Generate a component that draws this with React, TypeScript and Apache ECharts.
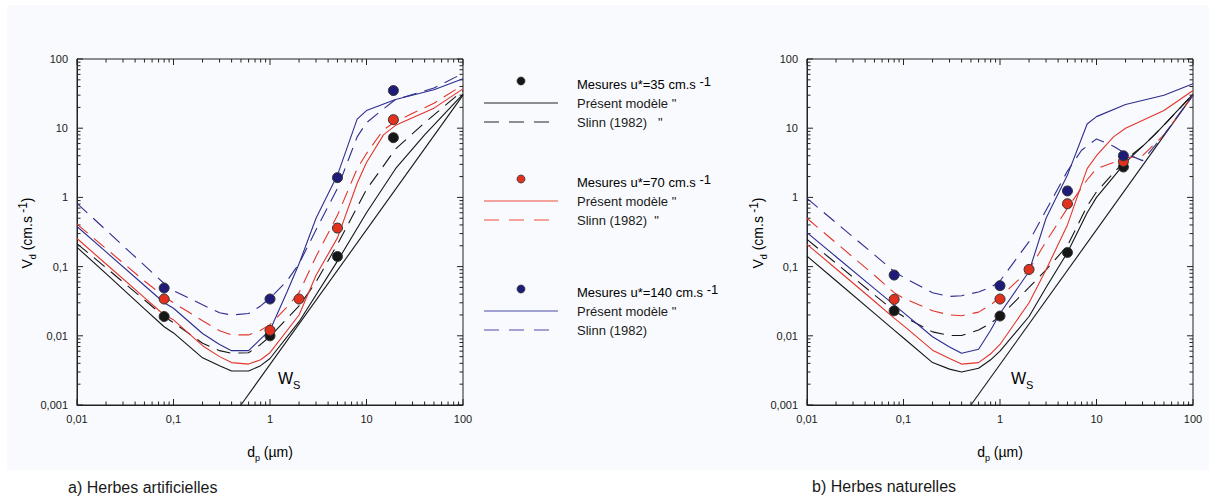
import React, { useEffect, useRef } from 'react';
import * as echarts from 'echarts';

const FONT = '"Liberation Sans", Arial, Helvetica, sans-serif';

// ---------- data ----------
// x: particle diameter dp (µm), y: deposition velocity Vd (cm/s)

// a) Herbes artificielles
const aMes35 = [[0.08, 0.019], [1, 0.01], [5, 0.14], [19, 7.3]];
const aMes70 = [[0.08, 0.034], [1, 0.012], [2, 0.034], [5, 0.36], [19, 13.3]];
const aMes140 = [[0.08, 0.049], [1, 0.034], [5, 1.93], [19, 35]];
const aModel35 = [[0.01, 0.19], [0.02, 0.079], [0.05, 0.0245], [0.08, 0.0135], [0.1, 0.011], [0.2, 0.0048], [0.3, 0.0037], [0.4, 0.0031], [0.6, 0.0031], [0.8, 0.0037], [1, 0.0047], [2, 0.016], [5, 0.12], [10, 0.6], [20, 2.6], [40, 8], [100, 31]];
const aSlinn35 = [[0.01, 0.215], [0.02, 0.096], [0.05, 0.033], [0.08, 0.019], [0.1, 0.0155], [0.2, 0.0078], [0.3, 0.0061], [0.4, 0.0056], [0.6, 0.0057], [0.8, 0.0075], [1, 0.0098], [2, 0.027], [3, 0.06], [5, 0.21], [10, 1.3], [20, 5], [40, 12], [100, 35]];
const aModel70 = [[0.01, 0.255], [0.02, 0.109], [0.05, 0.0356], [0.08, 0.02], [0.1, 0.017], [0.2, 0.0072], [0.3, 0.005], [0.4, 0.0041], [0.6, 0.0039], [0.8, 0.0045], [1, 0.0057], [2, 0.02], [3, 0.075], [5, 0.26], [8, 1.6], [10, 3.2], [15, 8], [20, 11], [50, 19.5], [100, 37]];
const aSlinn70 = [[0.01, 0.41], [0.02, 0.182], [0.05, 0.062], [0.08, 0.037], [0.1, 0.03], [0.2, 0.0165], [0.3, 0.0118], [0.4, 0.0103], [0.6, 0.0103], [0.8, 0.012], [1, 0.0145], [1.5, 0.026], [2, 0.042], [3, 0.14], [5, 0.55], [8, 2.6], [10, 4.3], [15, 9.5], [20, 12.5], [50, 23], [100, 42]];
const aModel140 = [[0.01, 0.38], [0.02, 0.163], [0.05, 0.0533], [0.08, 0.03], [0.1, 0.025], [0.2, 0.0108], [0.3, 0.0075], [0.4, 0.0061], [0.6, 0.0061], [0.8, 0.009], [1, 0.012], [1.5, 0.043], [2, 0.11], [3, 0.5], [5, 2.1], [8, 13.5], [10, 18], [20, 26], [50, 36], [100, 52]];
const aSlinn140 = [[0.01, 0.82], [0.02, 0.337], [0.05, 0.104], [0.08, 0.057], [0.1, 0.045], [0.2, 0.028], [0.3, 0.0215], [0.4, 0.02], [0.6, 0.021], [0.8, 0.027], [1, 0.035], [1.5, 0.062], [2, 0.11], [3, 0.34], [5, 1.35], [8, 7.5], [10, 12], [15, 19], [20, 26], [50, 38], [100, 62]];

// b) Herbes naturelles
const bMes35 = [[0.08, 0.023], [1, 0.0193], [5, 0.16], [19, 2.75]];
const bMes70 = [[0.08, 0.0336], [1, 0.034], [2, 0.091], [5, 0.81], [19, 3.3]];
const bMes140 = [[0.08, 0.0755], [1, 0.053], [5, 1.24], [19, 4.0]];
const bModel35 = [[0.01, 0.142], [0.02, 0.0625], [0.05, 0.0211], [0.08, 0.0121], [0.1, 0.0093], [0.2, 0.0041], [0.3, 0.0033], [0.4, 0.003], [0.6, 0.0034], [0.8, 0.0045], [1, 0.006], [2, 0.019], [3, 0.05], [5, 0.16], [8, 0.6], [10, 1.0], [20, 3.2], [40, 8], [100, 31]];
const bSlinn35 = [[0.01, 0.247], [0.02, 0.112], [0.05, 0.039], [0.08, 0.023], [0.1, 0.019], [0.2, 0.0114], [0.3, 0.0101], [0.4, 0.0101], [0.6, 0.0121], [0.8, 0.0152], [1, 0.019], [2, 0.05], [3, 0.09], [5, 0.2], [8, 0.75], [10, 1.2], [20, 3.5], [30, 5.5], [50, 11], [100, 31]];
const bModel70 = [[0.01, 0.21], [0.02, 0.093], [0.05, 0.0316], [0.08, 0.018], [0.1, 0.014], [0.2, 0.0062], [0.3, 0.0047], [0.4, 0.0039], [0.6, 0.0041], [0.8, 0.0055], [1, 0.0075], [2, 0.03], [3, 0.09], [5, 0.4], [8, 2.6], [10, 4], [15, 7.5], [20, 10], [50, 18], [100, 35]];
const bSlinn70 = [[0.01, 0.5], [0.02, 0.22], [0.05, 0.075], [0.08, 0.042], [0.1, 0.035], [0.2, 0.023], [0.3, 0.02], [0.4, 0.0195], [0.6, 0.022], [0.8, 0.028], [1, 0.036], [2, 0.09], [3, 0.23], [5, 0.7], [8, 1.8], [10, 2.6], [15, 3.2], [20, 3.7], [30, 4.0], [50, 8], [100, 30]];
const bModel140 = [[0.01, 0.31], [0.02, 0.139], [0.05, 0.048], [0.08, 0.028], [0.1, 0.0216], [0.2, 0.0097], [0.3, 0.0069], [0.4, 0.0056], [0.6, 0.0064], [0.8, 0.012], [1, 0.021], [2, 0.085], [3, 0.5], [5, 2.1], [8, 11.5], [10, 14.7], [20, 22], [50, 30], [100, 44]];
const bSlinn140 = [[0.01, 0.97], [0.02, 0.43], [0.05, 0.148], [0.08, 0.085], [0.1, 0.07], [0.2, 0.042], [0.3, 0.037], [0.4, 0.038], [0.6, 0.043], [0.8, 0.05], [1, 0.062], [2, 0.23], [3, 0.65], [5, 2.4], [7, 4.8], [10, 7], [15, 5.5], [20, 4.3], [30, 3.4], [50, 8], [100, 30]];

// settling velocity Ws (both panels)
const wsLine = [[0.5, 0.001], [100, 30]];

// axis ticks
const xMajor = [0.01, 0.1, 1, 10, 100];
const yMajor = [0.001, 0.01, 0.1, 1, 10, 100];
const minorSteps = [2, 3, 4, 5, 6, 7, 8, 9];

const C_BLACK = '#151515';
const C_RED = '#e4352a';
const C_BLUE = '#2e2d8f';
const DOT_BLACK = '#161616';
const DOT_RED = '#e0321f';
const DOT_BLUE = '#1f1b78';
const AXIS = '#222';
const DASH = [14, 8];

const fmt = (v: number) => {
  const p = Math.round(Math.log10(v));
  return p < 0 ? '0,' + '0'.repeat(-p - 1) + '1' : String(Math.round(Math.pow(10, p)));
};

const grids = [
  { left: 77, top: 59, width: 386, height: 346 },
  { left: 807, top: 59, width: 386, height: 346 },
];

function lineSeries(data: number[][], gi: number, color: string, dashed: boolean) {
  return {
    type: 'line', xAxisIndex: gi, yAxisIndex: gi, data, symbol: 'none', silent: true,
    lineStyle: { color, width: 1.1, type: dashed ? DASH : 'solid' }, z: 3,
  };
}
function dotSeries(data: number[][], gi: number, color: string) {
  return {
    type: 'scatter', xAxisIndex: gi, yAxisIndex: gi, data, symbol: 'circle', symbolSize: 10, silent: true,
    itemStyle: { color, borderColor: '#333', borderWidth: 1, opacity: 1 }, z: 5,
  };
}

const richMain = { fontSize: 13, lineHeight: 18, fontFamily: FONT, color: '#1a1a1a' };
const richSup = { fontSize: 13, lineHeight: 12, verticalAlign: 'top', fontFamily: FONT, color: '#1a1a1a' };

function legendGroup(y0: number, dotColor: string, lineColor: string, label: string, t2: string, t3: string) {
  return [
    { type: 'circle', shape: { cx: 521, cy: y0, r: 4 }, style: { fill: dotColor, stroke: '#333', lineWidth: 0.8 } },
    { type: 'text', x: 577, y: y0 + 3, style: { text: `{a|${label}}{s| -1}`, rich: { a: richMain, s: richSup }, verticalAlign: 'middle', align: 'left' } },
    { type: 'line', shape: { x1: 484, y1: y0 + 22, x2: 558, y2: y0 + 22 }, style: { stroke: lineColor, lineWidth: 1.2 } },
    { type: 'text', x: 577, y: y0 + 22, style: { text: t2, font: `13px ${FONT}`, fill: '#1a1a1a', verticalAlign: 'middle', align: 'left' } },
    { type: 'line', shape: { x1: 484, y1: y0 + 41, x2: 558, y2: y0 + 41 }, style: { stroke: lineColor, lineWidth: 1.2, lineDash: [15, 10] } },
    { type: 'text', x: 577, y: y0 + 41, style: { text: t3, font: `13px ${FONT}`, fill: '#1a1a1a', verticalAlign: 'middle', align: 'left' } },
  ];
}

function yName(x: number) {
  return {
    type: 'text', x, y: 233, rotation: Math.PI / 2,
    style: {
      text: '{a|V}{b|d}{a| (cm.s}{c| -1}{a|)}',
      align: 'center', verticalAlign: 'middle',
      rich: {
        a: { fontSize: 14, lineHeight: 20, fontFamily: FONT, color: '#1a1a1a' },
        b: { fontSize: 9, lineHeight: 9, verticalAlign: 'bottom', fontFamily: FONT, color: '#1a1a1a' },
        c: { fontSize: 12, lineHeight: 12, verticalAlign: 'top', fontFamily: FONT, color: '#1a1a1a' },
      },
    },
  };
}
function xName(x: number) {
  return {
    type: 'text', x, y: 452,
    style: {
      text: '{a|d}{b|p}{a| (µm)}',
      align: 'center', verticalAlign: 'middle',
      rich: {
        a: { fontSize: 14, lineHeight: 20, fontFamily: FONT, color: '#1a1a1a' },
        b: { fontSize: 9, lineHeight: 9, verticalAlign: 'bottom', fontFamily: FONT, color: '#1a1a1a' },
      },
    },
  };
}
function wsLabel(x: number) {
  return {
    type: 'text', x, y: 378,
    style: {
      text: '{a|W}{b|S}',
      align: 'left', verticalAlign: 'middle',
      rich: {
        a: { fontSize: 16, lineHeight: 24, fontFamily: FONT, color: '#1a1a1a' },
        b: { fontSize: 11, lineHeight: 11, verticalAlign: 'bottom', fontFamily: FONT, color: '#1a1a1a' },
      },
    },
  };
}

export default function App() {
  const ref = useRef<HTMLDivElement>(null);
  useEffect(() => {
    const chart = echarts.init(ref.current!, null, { renderer: 'svg', width: 1209, height: 497 });

    const axisCommon = {
      type: 'log', logBase: 10,
      axisLine: { show: true, onZero: false, lineStyle: { color: AXIS, width: 1 } },
      axisTick: { show: false },
      splitLine: { show: false },
      minorTick: { show: false },
      axisLabel: { formatter: fmt, fontSize: 11, color: '#1a1a1a', fontFamily: FONT },
    };

    const baseGraphics: any[] = [
      { type: 'rect', z: -10, shape: { x: 7, y: 5, width: 1202, height: 465 }, style: { fill: '#f8fafd' }, silent: true },
      ...legendGroup(81, DOT_BLACK, '#222', 'Mesures u*=35 cm.s', 'Présent modèle "', 'Slinn (1982)   "'),
      ...legendGroup(179, DOT_RED, '#ef4a3c', 'Mesures u*=70 cm.s', 'Présent modèle "', 'Slinn (1982)  "'),
      ...legendGroup(289, DOT_BLUE, '#4a4aa6', 'Mesures u*=140 cm.s', 'Présent modèle "', 'Slinn (1982)'),
      yName(27), yName(758),
      xName(270), xName(1000),
      wsLabel(278), wsLabel(1011),
      { type: 'text', x: 68, y: 487, style: { text: 'a) Herbes artificielles', font: `16px ${FONT}`, fill: '#1a1a1a', verticalAlign: 'middle' } },
      { type: 'text', x: 812, y: 486, style: { text: 'b) Herbes naturelles', font: `16px ${FONT}`, fill: '#1a1a1a', verticalAlign: 'middle' } },
    ];

    const series: any[] = [];
    const sets = [
      [aModel35, aSlinn35, aModel70, aSlinn70, aModel140, aSlinn140, aMes35, aMes70, aMes140],
      [bModel35, bSlinn35, bModel70, bSlinn70, bModel140, bSlinn140, bMes35, bMes70, bMes140],
    ];
    sets.forEach((s, gi) => {
      series.push(lineSeries(wsLine, gi, C_BLACK, false));
      series.push(lineSeries(s[0], gi, C_BLACK, false));
      series.push(lineSeries(s[1], gi, C_BLACK, true));
      series.push(lineSeries(s[2], gi, C_RED, false));
      series.push(lineSeries(s[3], gi, C_RED, true));
      series.push(lineSeries(s[4], gi, C_BLUE, false));
      series.push(lineSeries(s[5], gi, C_BLUE, true));
      series.push(dotSeries(s[6], gi, DOT_BLACK));
      series.push(dotSeries(s[7], gi, DOT_RED));
      series.push(dotSeries(s[8], gi, DOT_BLUE));
    });

    chart.setOption({
      animation: false,
      backgroundColor: '#ffffff',
      textStyle: { fontFamily: FONT },
      grid: grids.map((g) => ({ ...g, show: true, borderColor: AXIS, borderWidth: 1, backgroundColor: 'transparent', containLabel: false })),
      xAxis: grids.map((_, gi) => ({ ...axisCommon, gridIndex: gi, min: 0.01, max: 100, axisLabel: { ...axisCommon.axisLabel, margin: 8 } })),
      yAxis: grids.map((_, gi) => ({ ...axisCommon, gridIndex: gi, min: 0.001, max: 100, axisLabel: { ...axisCommon.axisLabel, margin: 9 } })),
      series,
      graphic: { elements: baseGraphics },
    });

    // ticks on all four sides, placed through the axes' own scales
    const ticks: any[] = [];
    const MAJ = 6, MIN = 3.5;
    const tickStyle = { stroke: AXIS, lineWidth: 1 };
    grids.forEach((_, gi) => {
      const xl = chart.convertToPixel({ xAxisIndex: gi } as any, 0.01) as number;
      const xr = chart.convertToPixel({ xAxisIndex: gi } as any, 100) as number;
      const yb = chart.convertToPixel({ yAxisIndex: gi } as any, 0.001) as number;
      const yt = chart.convertToPixel({ yAxisIndex: gi } as any, 100) as number;
      const xs: [number, number][] = [];
      xMajor.forEach((v, i) => {
        xs.push([v, MAJ]);
        if (i < xMajor.length - 1) minorSteps.forEach((k) => xs.push([v * k, MIN]));
      });
      const ys: [number, number][] = [];
      yMajor.forEach((v, i) => {
        ys.push([v, MAJ]);
        if (i < yMajor.length - 1) minorSteps.forEach((k) => ys.push([v * k, MIN]));
      });
      xs.forEach(([v, len]) => {
        const p = chart.convertToPixel({ xAxisIndex: gi } as any, v) as number;
        ticks.push({ type: 'line', silent: true, shape: { x1: p, y1: yb, x2: p, y2: yb - len }, style: tickStyle });
        ticks.push({ type: 'line', silent: true, shape: { x1: p, y1: yt, x2: p, y2: yt + len }, style: tickStyle });
      });
      ys.forEach(([v, len]) => {
        const p = chart.convertToPixel({ yAxisIndex: gi } as any, v) as number;
        ticks.push({ type: 'line', silent: true, shape: { x1: xl, y1: p, x2: xl + len, y2: p }, style: tickStyle });
        ticks.push({ type: 'line', silent: true, shape: { x1: xr, y1: p, x2: xr - len, y2: p }, style: tickStyle });
      });
    });
    chart.setOption({ graphic: { elements: [...baseGraphics, ...ticks] } });

    return () => chart.dispose();
  }, []);

  return <div ref={ref} style={{ position: 'absolute', left: 0, top: 0, width: 1209, height: 497 }} />;
}
